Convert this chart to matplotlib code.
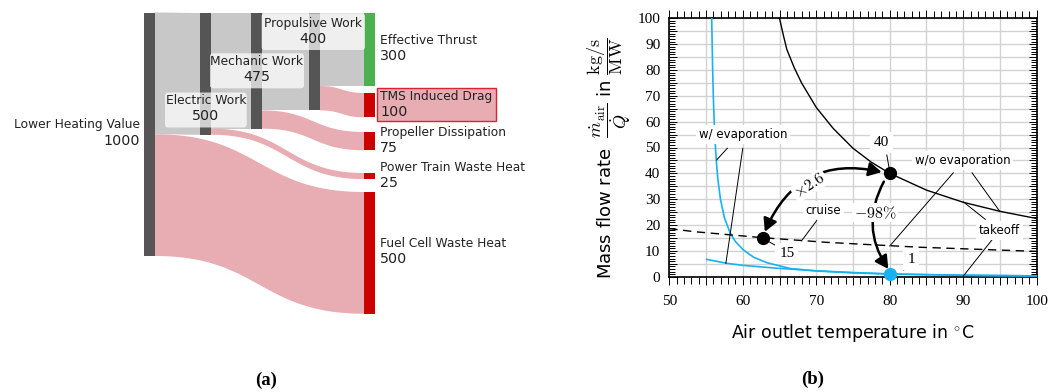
import numpy as np
import matplotlib
matplotlib.use("Agg")
import matplotlib.pyplot as plt
from matplotlib.patches import FancyArrowPatch, FancyBboxPatch, Rectangle, Polygon
from matplotlib.ticker import MultipleLocator, FuncFormatter

plt.rcParams['mathtext.fontset'] = 'cm'

# ---------------- data: Sankey (a) ----------------
node_names = ["Lower Heating Value", "Electric Work", "Mechanic Work", "Propulsive Work",
              "Effective Thrust", "TMS Induced Drag", "Propeller Dissipation",
              "Power Train Waste Heat", "Fuel Cell Waste Heat"]
node_values = [1000, 500, 475, 400, 300, 100, 75, 25, 500]
link_source = [0, 0, 1, 1, 2, 2, 3, 3]
link_target = [1, 8, 2, 7, 3, 6, 4, 5]
link_values = [500, 500, 475, 25, 400, 75, 300, 100]

# ---------------- data: mass flow chart (b) ----------------
wo_T = [65, 65.5, 66, 67, 68, 70, 72.3, 75, 77.5, 80, 85, 90, 95, 100]
wo_m = [100, 93.7, 87.9, 80.9, 75, 65.5, 57.4, 49.7, 44.3, 40, 33.5, 28.8, 25.3, 22.5]
ev1_T = [55.77, 55.9, 56.0, 56.1, 56.28, 56.45, 56.6, 56.96, 57.5, 58.3, 59.0, 60.1, 61.5,
         63.3, 66.4, 70, 75, 80, 90, 100]
ev1_m = [100, 80, 69, 60.7, 50, 43, 38, 30, 22.8, 16.8, 13.6, 10.3, 7.5,
         5.4, 3.2, 2.2, 1.5, 1.0, 0.55, 0.3]
ev2_T = [55.1, 57.8, 60, 65, 70, 75, 80, 85, 90, 100]
ev2_m = [6.7, 5.2, 4.4, 3.2, 2.3, 1.6, 1.1, 0.8, 0.6, 0.3]
cr_T = [50, 53.5, 62.7, 71.4, 80, 84.1, 100]
cr_m = [18.6, 17.4, 15.1, 13.3, 12.0, 11.4, 9.8]
pt_takeoff = (80, 40)
pt_cruise = (62.7, 15.1)
pt_evap = (80, 1.0)
lbl_takeoff, lbl_cruise, lbl_evap = "40", "15", "1"
x_ticks = [50, 60, 70, 80, 90, 100]
y_ticks = [0, 10, 20, 30, 40, 50, 60, 70, 80, 90, 100]

W, H = 1057, 392
fig = plt.figure(figsize=(W / 100, H / 100), dpi=100)

# ================= Sankey (pixel coordinate overlay) =================
axs = fig.add_axes([0, 0, 1, 1])
axs.set_xlim(0, W)
axs.set_ylim(H, 0)
axs.axis('off')

S = 0.2435
node_x = [144, 200, 251, 309, 364, 364, 364, 364, 364]
node_top = [12.5, 13, 13, 13, 13, 93, 132, 173, 192]
nw = 11
node_colors = ['#555555'] * 4 + ['#4caf50'] + ['#cc0000'] * 4
GRAY, PINK = '#c8c8c8', '#e8adb3'
link_colors = [GRAY, PINK, GRAY, PINK, GRAY, PINK, GRAY, PINK]

out_off = [0.0] * len(node_values)
in_off = [0.0] * len(node_values)
t = np.linspace(0, 1, 60)
for s, tg, v, c in zip(link_source, link_target, link_values, link_colors):
    h = v * S
    y0 = node_top[s] + out_off[s]
    y1 = node_top[tg] + in_off[tg]
    out_off[s] += h
    in_off[tg] += h
    x0 = node_x[s] + nw
    x1 = node_x[tg]
    xm = (x0 + x1) / 2
    bx = (1 - t) ** 3 * x0 + 3 * (1 - t) ** 2 * t * xm + 3 * (1 - t) * t ** 2 * xm + t ** 3 * x1
    sm = 3 * t ** 2 - 2 * t ** 3
    top = y0 + (y1 - y0) * sm
    bot = top + h
    poly = np.vstack([np.column_stack([bx, top]), np.column_stack([bx[::-1], bot[::-1]])])
    axs.add_patch(Polygon(poly, closed=True, facecolor=c, edgecolor='none', zorder=1))

for i, v in enumerate(node_values):
    axs.add_patch(Rectangle((node_x[i], node_top[i]), nw, v * S,
                            facecolor=node_colors[i], edgecolor='none', zorder=2))

# label boxes for intermediate nodes
boxes = {1: (165, 92.5, 81.7, 35), 2: (210, 53.3, 94, 35), 3: (261.7, 13.3, 103.3, 36.7)}
for i, (bx0, by0, bw, bh) in boxes.items():
    axs.add_patch(FancyBboxPatch((bx0, by0), bw, bh, boxstyle='round,pad=0,rounding_size=3',
                                 facecolor='white', alpha=0.72, edgecolor='none', zorder=3))
# TMS highlighted box
axs.add_patch(Rectangle((377, 88.3), 118.7, 32.4, facecolor='#e8adb3', edgecolor='#d9232e',
                        lw=1.0, zorder=3))

FN, FV = 8.8, 10.3
TC = '#222222'
axs.text(140, 124.7, node_names[0], ha='right', va='center', fontsize=FN, color=TC, zorder=5)
axs.text(140, 140.7, str(node_values[0]), ha='right', va='center', fontsize=FV, color=TC, zorder=5)
mid_pos = {1: (205.8, 100.3), 2: (257, 61.7), 3: (312.5, 23.3)}
for i, (cx, cy) in mid_pos.items():
    axs.text(cx, cy, node_names[i], ha='center', va='center', fontsize=FN, color=TC, zorder=5)
    axs.text(cx, cy + 15.7, str(node_values[i]), ha='center', va='center', fontsize=FV, color=TC, zorder=5)
right_pos = {4: 40.7, 5: 96.7, 6: 132.7, 7: 167.3, 8: 243.7}
for i, cy in right_pos.items():
    axs.text(380, cy, node_names[i], ha='left', va='center', fontsize=FN, color=TC, zorder=5)
    axs.text(380, cy + 15.7, str(node_values[i]), ha='left', va='center', fontsize=FV, color=TC, zorder=5)

axs.text(266, 380, '(a)', ha='center', va='center', fontsize=13.5, fontweight='bold',
         family='Liberation Serif')
axs.text(813, 379, '(b)', ha='center', va='center', fontsize=13.5, fontweight='bold',
         family='Liberation Serif')

# ================= mass flow chart =================
ax = fig.add_axes([669.3 / W, (H - 276.7) / H, 367.4 / W, 258.4 / H])
ax.set_xlim(50, 100)
ax.set_ylim(0, 100)
ax.xaxis.set_major_locator(MultipleLocator(5))
ax.yaxis.set_major_locator(MultipleLocator(5))
ax.xaxis.set_minor_locator(MultipleLocator(1))
ax.yaxis.set_minor_locator(MultipleLocator(1))
ax.xaxis.set_major_formatter(FuncFormatter(lambda v, p: f"{int(round(v))}" if round(v) in x_ticks else ""))
ax.yaxis.set_major_formatter(FuncFormatter(lambda v, p: f"{int(round(v))}" if round(v) in y_ticks else ""))
ax.grid(True, which='major', color='#d2d2d2', lw=1.0, zorder=0)
ax.tick_params(axis='x', which='both', top=True, bottom=True, direction='out', width=0.7,
               pad=7.5, labelsize=11)
ax.tick_params(axis='x', which='major', length=6)
ax.tick_params(axis='x', which='minor', length=5)
ax.tick_params(axis='y', which='both', left=True, right=True, direction='in', width=0.7,
               pad=6.5, labelsize=11)
ax.tick_params(axis='y', which='major', length=6)
ax.tick_params(axis='y', which='minor', length=4.5)
for lab in ax.get_xticklabels() + ax.get_yticklabels():
    lab.set_family('Liberation Serif')
for sp in ax.spines.values():
    sp.set_linewidth(1.2)

BLUE = '#18b2f2'
ax.plot(wo_T, wo_m, color='black', lw=1.0, zorder=3)
ax.plot(ev1_T, ev1_m, color=BLUE, lw=1.2, zorder=3)
ax.plot(ev2_T, ev2_m, color=BLUE, lw=1.2, zorder=3)
ax.plot(cr_T, cr_m, color='black', lw=1.0, dashes=(6, 4), zorder=3)

ax.plot(*pt_takeoff, 'o', color='black', ms=8.5, zorder=6, clip_on=False)
ax.plot(*pt_cruise, 'o', color='black', ms=8.5, zorder=6, clip_on=False)
ax.plot(*pt_evap, 'o', color=BLUE, ms=8.5, zorder=6, clip_on=False)

LW = 0.7
leaders = [((57.9, 49.7), (56.45, 45.2)), ((60.0, 49.7), (57.7, 5.2)),
           ((88.65, 40.2), (80.0, 11.9)), ((91.2, 40.2), (95.0, 25.2)),
           ((93.0, 22.2), (90.0, 29.0)), ((93.9, 14.2), (90.0, 0.2)),
           ((70.06, 21.7), (68.0, 13.9)),
           ((79.6, 47.1), (79.96, 41.3)), ((63.6, 13.5), (64.4, 12.2)),
           ((81.9, 2.6), (82.8, 4.5))]
for (a, b) in leaders:
    ax.plot([a[0], b[0]], [a[1], b[1]], color='black', lw=LW, zorder=4)

bb = dict(boxstyle='square,pad=0.25', facecolor='white', edgecolor='none')
LF = 8.5
ax.text(60.0, 55.2, 'w/ evaporation', ha='center', va='center', fontsize=LF, bbox=bb, zorder=7)
ax.text(89.9, 45.0, 'w/o evaporation', ha='center', va='center', fontsize=LF, bbox=bb, zorder=7)
ax.text(71.0, 25.8, 'cruise', ha='center', va='center', fontsize=LF, bbox=bb, zorder=7)
ax.text(94.9, 17.8, 'takeoff', ha='center', va='center', fontsize=LF, bbox=bb, zorder=7)
NF = 11
ax.text(78.9, 51.9, lbl_takeoff, ha='center', va='center', fontsize=NF, family='Liberation Serif',
        bbox=bb, zorder=7)
ax.text(66.0, 9.0, lbl_cruise, ha='center', va='center', fontsize=NF, family='Liberation Serif',
        bbox=bb, zorder=7)
ax.text(82.9, 6.7, lbl_evap, ha='center', va='center', fontsize=NF, family='Liberation Serif',
        bbox=bb, zorder=7)

arr1 = FancyArrowPatch((78.9, 40.5), (63.0, 17.4), connectionstyle='arc3,rad=0.41',
                       arrowstyle='<|-|>,head_length=0.55,head_width=0.3', mutation_scale=14,
                       lw=1.8, color='black', shrinkA=0, shrinkB=0, zorder=5)
ax.add_patch(arr1)
arr2 = FancyArrowPatch((79.2, 36.8), (79.8, 3.0), connectionstyle='arc3,rad=0.3',
                       arrowstyle='-|>,head_length=0.55,head_width=0.3', mutation_scale=14,
                       lw=1.8, color='black', shrinkA=0, shrinkB=0, zorder=5)
ax.add_patch(arr2)
ax.text(69.1, 35.3, r'$\times 2.6$', ha='center', va='center', fontsize=11.5, rotation=33,
        bbox=dict(boxstyle='square,pad=0.1', facecolor='white', edgecolor='none'), zorder=7)
ax.text(78.0, 24.8, r'$-98\%$', ha='center', va='center', fontsize=11.5,
        bbox=dict(boxstyle='square,pad=0.1', facecolor='white', edgecolor='none'), zorder=7)

ax.set_xlabel('Air outlet temperature in $^{\\circ}$C', fontsize=12.5)
ax.xaxis.set_label_coords(0.5, -0.175)
ax.set_ylabel(r'Mass flow rate  $\dfrac{\dot{m}_{\mathrm{air}}}{\dot{Q}}$ in $\dfrac{\mathrm{kg/s}}{\mathrm{MW}}$',
              fontsize=13)
ax.yaxis.set_label_coords(-0.10, 0.46)

fig.savefig('out.png', dpi=100)
